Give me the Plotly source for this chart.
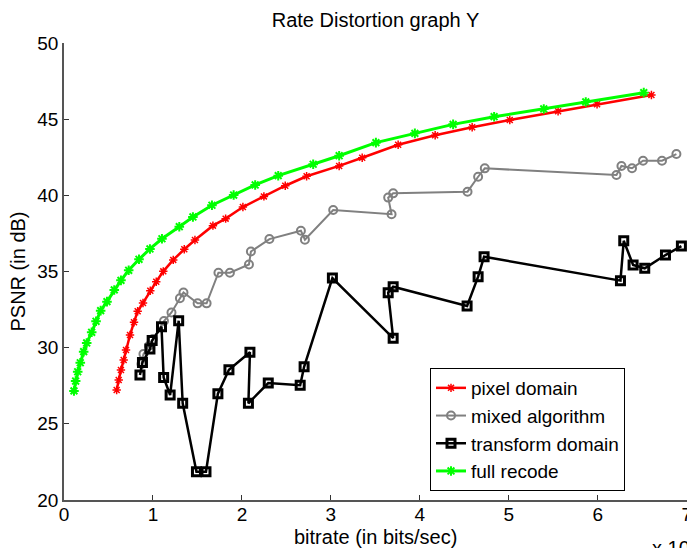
import plotly.graph_objects as go

# bitrate in units of 1e6 bits/sec, PSNR in dB
pixel_x = [0.592, 0.615, 0.640, 0.671, 0.697, 0.742, 0.787, 0.828, 0.888, 0.970,
           1.037, 1.116, 1.228, 1.352, 1.472, 1.674, 1.817, 2.011, 2.247, 2.487,
           2.727, 3.093, 3.352, 3.756, 4.172, 4.588, 5.011, 5.554, 5.992, 6.603]
pixel_y = [27.22, 27.88, 28.53, 29.19, 29.85, 30.83, 31.67, 32.39, 32.93, 33.74,
           34.33, 35.01, 35.76, 36.46, 37.07, 38.01, 38.47, 39.23, 39.93, 40.63,
           41.25, 41.93, 42.47, 43.32, 43.94, 44.47, 44.95, 45.52, 45.98, 46.59]

mixed_x = [0.871, 0.893, 0.955, 1.000, 1.124, 1.208, 1.303, 1.343, 1.502, 1.603,
           1.736, 1.865, 2.079, 2.101, 2.309, 2.663, 2.708, 3.026, 3.682, 3.644,
           3.700, 4.536, 4.655, 4.730, 6.210, 6.266, 6.385, 6.509, 6.722, 6.884]
mixed_y = [28.93, 29.58, 30.11, 30.57, 31.75, 32.31, 33.24, 33.62, 32.91, 32.91,
           34.92, 34.92, 35.46, 36.31, 37.13, 37.68, 37.09, 39.04, 38.76, 39.85,
           40.13, 40.24, 41.22, 41.77, 41.34, 41.93, 41.78, 42.27, 42.27, 42.71]

transform_x = [0.854, 0.882, 0.966, 0.991, 1.096, 1.120, 1.193, 1.289, 1.334, 1.489,
               1.596, 1.730, 1.854, 2.090, 2.073, 2.296, 2.655, 2.699, 3.017, 3.700,
               3.644, 3.700, 4.531, 4.655, 4.722, 6.255, 6.292, 6.397, 6.528, 6.761, 6.940]
transform_y = [28.21, 29.03, 29.91, 30.47, 31.38, 28.04, 26.89, 31.77, 26.35, 21.86,
               21.86, 26.98, 28.55, 29.70, 26.35, 27.68, 27.54, 28.74, 34.57, 30.62,
               33.61, 34.00, 32.74, 34.66, 35.97, 34.40, 37.02, 35.43, 35.21, 36.08, 36.67]

full_x = [0.112, 0.131, 0.154, 0.183, 0.221, 0.255, 0.311, 0.360, 0.412, 0.483,
          0.565, 0.640, 0.727, 0.843, 0.966, 1.101, 1.296, 1.449, 1.663, 1.907,
          2.149, 2.408, 2.801, 3.093, 3.506, 3.944, 4.374, 4.835, 5.393, 5.865, 6.517]
full_y = [27.16, 27.81, 28.42, 29.01, 29.74, 30.31, 31.01, 31.73, 32.43, 33.02,
          33.79, 34.42, 35.08, 35.80, 36.48, 37.15, 37.94, 38.58, 39.35, 40.02,
          40.68, 41.29, 42.04, 42.60, 43.46, 44.07, 44.66, 45.16, 45.67, 46.13, 46.74]

x_ticks = [0, 1, 2, 3, 4, 5, 6, 7]
y_ticks = [20, 25, 30, 35, 40, 45, 50]

FONT = "Liberation Sans, Arial, sans-serif"
FS = 20
TFS = 19
LFS = 19

W, H = 687, 548
L, T, B = 64, 43, 48
PW = W - L
PH = H - T - B

fig = go.Figure()
fig.add_trace(go.Scatter(x=pixel_x, y=pixel_y, mode="lines+markers", name="pixel domain",
                         line=dict(color="#ff0000", width=2.5),
                         marker=dict(symbol="asterisk-open", size=7, color="#ff0000",
                                     line=dict(color="#ff0000", width=1.5))))
fig.add_trace(go.Scatter(x=mixed_x, y=mixed_y, mode="lines+markers", name="mixed algorithm",
                         line=dict(color="#808080", width=2),
                         marker=dict(symbol="circle-open", size=8, color="#808080",
                                     line=dict(color="#808080", width=2))))
fig.add_trace(go.Scatter(x=transform_x, y=transform_y, mode="lines+markers", name="transform domain",
                         line=dict(color="#000000", width=2.5),
                         marker=dict(symbol="square-open", size=8, color="#000000",
                                     line=dict(color="#000000", width=3))))
fig.add_trace(go.Scatter(x=full_x, y=full_y, mode="lines+markers", name="full recode",
                         line=dict(color="#00ff00", width=3),
                         marker=dict(symbol="asterisk-open", size=8, color="#00ff00",
                                     line=dict(color="#00ff00", width=2))))

fig.update_layout(
    width=W, height=H,
    margin=dict(l=L, r=0, t=T, b=B, autoexpand=False),
    paper_bgcolor="white", plot_bgcolor="white",
    font=dict(family=FONT, size=FS, color="black"),
    title=dict(text="Rate Distortion graph Y", x=0.5, xref="paper", xanchor="center",
               y=1 - 20 / H, yref="container", yanchor="middle",
               font=dict(family=FONT, size=FS, color="black")),
    showlegend=True,
    legend=dict(x=(430 - L) / PW, y=(500 - 368) / PH, xref="paper", yref="paper",
                xanchor="left", yanchor="top", bgcolor="white",
                bordercolor="black", borderwidth=1, itemwidth=30,
                font=dict(family=FONT, size=LFS, color="black"), tracegroupgap=0),
    xaxis=dict(range=[0, 7.003], tickvals=x_ticks, ticktext=[str(v) for v in x_ticks],
               showgrid=False, zeroline=False, showline=True, linecolor="#555555", linewidth=1.5,
               ticks="inside", ticklen=5, tickcolor="#333333", mirror=False,
               ticklabelstandoff=-4, ticklabeloverflow="allow",
               tickfont=dict(family=FONT, size=TFS, color="black")),
    yaxis=dict(range=[20, 50], tickvals=y_ticks, ticktext=[str(v) for v in y_ticks],
               showgrid=False, zeroline=False, showline=True, linecolor="#555555", linewidth=1.5,
               ticks="inside", ticklen=5, tickcolor="#333333", mirror=False,
               tickfont=dict(family=FONT, size=TFS, color="black")),
    annotations=[
        dict(text="bitrate (in bits/sec)", xref="paper", yref="paper", x=0.5, y=(500 - 537) / PH,
             xanchor="center", yanchor="middle", showarrow=False,
             font=dict(family=FONT, size=FS, color="black")),
        dict(text="PSNR (in dB)", xref="paper", yref="paper", x=(17 - L) / PW, y=0.5,
             xanchor="center", yanchor="middle", textangle=-90, showarrow=False,
             font=dict(family=FONT, size=FS, color="black")),
        dict(text="x 10<sup>6</sup>", xref="paper", yref="paper", x=(650 - L) / PW, y=(500 - 532) / PH,
             xanchor="left", yanchor="top", showarrow=False,
             font=dict(family=FONT, size=FS, color="black")),
    ],
)

fig.write_html("out.html", config={"displayModeBar": False},
               post_script="document.body.style.margin='0';document.body.style.overflow='hidden';")
